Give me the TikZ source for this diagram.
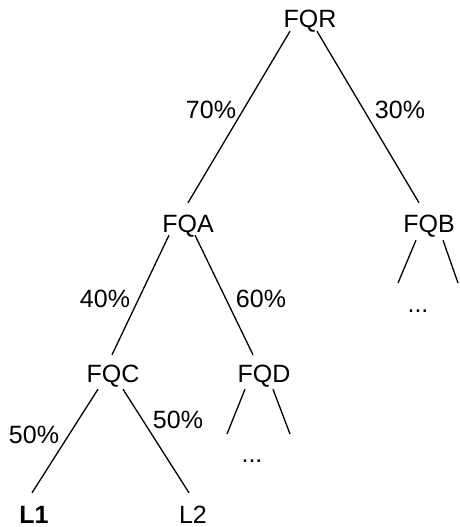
\documentclass[tikz,border=0pt]{standalone}
\usepackage{fontspec}
\setmainfont{Liberation Sans}
\begin{document}
\begin{tikzpicture}[x=1pt,y=-1pt,
  lbl/.style={inner sep=0pt,text height=18pt,text depth=0pt,font=\fontsize{25}{30}\selectfont},
  dots/.style={inner sep=0pt,anchor=base,font=\fontsize{25}{30}\selectfont},
  edge/.style={line width=1.3pt,black}]
\useasboundingbox (0,0) rectangle (459,527);
% nodes
\node[lbl] (fqr) at (310,19) {FQR};
\node[lbl] (fqa) at (188,223) {FQA};
\node[lbl] (fqb) at (429,223) {FQB};
\node[lbl] (fqc) at (113,373) {FQC};
\node[lbl] (fqd) at (264,373) {FQD};
\node[lbl] (l1) at (34,514) {\bfseries L1};
\node[lbl] (l2) at (193,514) {L2};
\node[dots] (dotsb) at (418,312) {...};
\node[dots] (dotsd) at (252,462) {...};
% edge labels
\node[lbl] (p70) at (211,109) {70\%};
\node[lbl] (p30) at (400,109) {30\%};
\node[lbl] (p40) at (105,298) {40\%};
\node[lbl] (p60) at (261,298) {60\%};
\node[lbl] (p50a) at (34,434) {50\%};
\node[lbl] (p50b) at (178,419) {50\%};
% free ends
\coordinate (b1) at (398,283);
\coordinate (b2) at (458,283);
\coordinate (d1) at (227,434);
\coordinate (d2) at (290,434);
% connectors
\draw[edge] ([xshift=-20pt,yshift=-3pt]fqr.south) -- ([yshift=11pt]fqa.north);
\draw[edge] ([xshift=7pt,yshift=-3pt]fqr.south) -- ([xshift=-10pt,yshift=11pt]fqb.north);
\draw[edge] ([xshift=-19pt,yshift=-3pt]fqa.south) -- ([xshift=-1pt,yshift=9pt]fqc.north);
\draw[edge] ([xshift=7pt,yshift=-3pt]fqa.south) -- ([xshift=-11pt,yshift=9pt]fqd.north);
\draw[edge] ([xshift=-13pt,yshift=-8pt]fqb.south) -- (b1);
\draw[edge] ([xshift=14pt,yshift=-8pt]fqb.south) -- (b2);
\draw[edge] ([xshift=-15pt,yshift=-7pt]fqc.south) -- ([xshift=-2pt,yshift=12pt]l1.north);
\draw[edge] ([xshift=10pt,yshift=-7pt]fqc.south) -- ([xshift=-4pt,yshift=12pt]l2.north);
\draw[edge] ([xshift=-19pt,yshift=-7pt]fqd.south) -- (d1);
\draw[edge] ([xshift=9pt,yshift=-7pt]fqd.south) -- (d2);
\end{tikzpicture}
\end{document}
